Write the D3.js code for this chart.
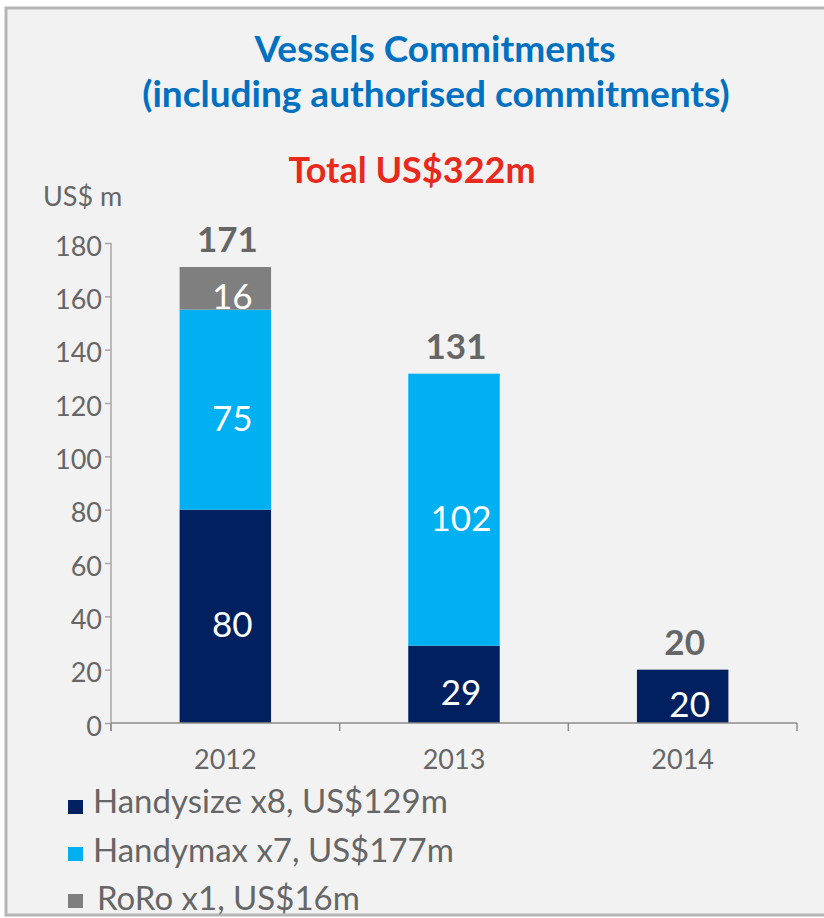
<!DOCTYPE html>
<html>
<head>
<meta charset="utf-8">
<script src="https://cdn.jsdelivr.net/npm/d3@7"></script>
<style>
  body { margin: 0; background: #fff; }
  svg { display: block; font-family: Lato, "Open Sans", sans-serif; }
</style>
</head>
<body>
<svg></svg>
<script>
//Chart data
var years = ["2012", "2013", "2014"];
var handysize = [80, 29, 20];
var handymax = [75, 102, 0];
var roro = [16, 0, 0];
var totals = [171, 131, 20];
var yTicks = [0, 20, 40, 60, 80, 100, 120, 140, 160, 180];
var seriesNames = ["Handysize x8, US$129m", "Handymax x7, US$177m", "RoRo x1, US$16m"];
var colors = ["#002060", "#00b0f0", "#7f7f7f"];

var width = 824;
var height = 918;
var svg = d3.select('svg')
            .attr('width', width)
            .attr('height', height);

//Panel background + frame
svg.append("rect")
   .attr("x", 6).attr("y", 8)
   .attr("width", width).attr("height", 907)
   .attr("fill", "#f2f2f2")
   .attr("stroke", "#b5b5b5")
   .attr("stroke-width", 3);

//Titles
svg.append("text")
   .attr("x", 435).attr("y", 62)
   .attr("text-anchor", "middle")
   .attr("fill", "#0070c0")
   .style("font-size", "37px").style("font-weight", "bold")
   .text("Vessels Commitments");
svg.append("text")
   .attr("x", 436).attr("y", 107)
   .attr("text-anchor", "middle")
   .attr("fill", "#0070c0")
   .style("font-size", "37px").style("font-weight", "bold")
   .text("(including authorised commitments)");
svg.append("text")
   .attr("x", 412).attr("y", 183)
   .attr("text-anchor", "middle")
   .attr("fill", "#e8291c")
   .style("font-size", "36px").style("font-weight", "bold")
   .text("Total US$322m");
svg.append("text")
   .attr("x", 43).attr("y", 206)
   .attr("fill", "#666")
   .style("font-size", "27px")
   .text("US$ m");

//Scales
var x = d3.scaleBand()
          .domain(years)
          .range([111, 797])
          .paddingInner(0.6)
          .paddingOuter(0.3);
var band = d3.scaleBand().domain(years).range([111, 797]);
var y = d3.scaleLinear()
          .domain([0, 180])
          .range([723, 243]);

//Stack the series
var rows = years.map(function(yr, i) {
  return { year: yr, handysize: handysize[i], handymax: handymax[i], roro: roro[i] };
});
var keys = ["handysize", "handymax", "roro"];
var stacked = d3.stack().keys(keys)(rows);

var layers = svg.append("g").selectAll("g")
   .data(stacked)
   .enter()
   .append("g")
   .attr("fill", (d, i) => colors[i]);

layers.selectAll("rect")
   .data(d => d.filter(p => p[1] - p[0] > 0))
   .enter()
   .append("rect")
   .attr("x", d => x(d.data.year))
   .attr("y", d => y(d[1]))
   .attr("width", x.bandwidth())
   .attr("height", d => y(d[0]) - y(d[1]));

//Segment labels
layers.selectAll("text")
   .data(d => d.filter(p => p[1] - p[0] > 0))
   .enter()
   .append("text")
   .attr("x", d => x(d.data.year) + x.bandwidth() / 2 + 7)
   .attr("y", d => (y(d[0]) + y(d[1])) / 2 + 21)
   .attr("text-anchor", "middle")
   .attr("fill", "#fff")
   .style("font-size", "35px")
   .text(d => d[1] - d[0]);

//Totals
svg.append("g").selectAll("text")
   .data(years)
   .enter()
   .append("text")
   .attr("x", (d, i) => x(d) + x.bandwidth() / 2 + 2)
   .attr("y", (d, i) => y(totals[i]) - 15)
   .attr("text-anchor", "middle")
   .attr("fill", "#666")
   .style("font-size", "35px").style("font-weight", "bold")
   .text((d, i) => totals[i]);

//Y axis
var yAxis = svg.append("g")
   .attr("transform", "translate(111,0)")
   .call(d3.axisLeft(y).tickValues(yTicks).tickSize(6).tickPadding(3));
yAxis.select(".domain").attr("stroke", "#a6a6a6").attr("stroke-width", 1.5)
     .attr("d", "M0,243V731");
yAxis.selectAll(".tick line").attr("stroke", "#a6a6a6").attr("stroke-width", 1.5);
yAxis.selectAll(".tick text")
     .attr("fill", "#666")
     .attr("dy", "0.45em")
     .style("font-size", "27px").style("font-family", "Lato, sans-serif");

//X axis
var xAxis = svg.append("g")
   .attr("transform", "translate(0,723)")
   .call(d3.axisBottom(x).tickSize(0).tickPadding(27));
xAxis.select(".domain").attr("stroke", "#8c8c8c").attr("stroke-width", 1.5)
     .attr("d", "M111,0H797");
xAxis.selectAll(".tick text")
     .attr("fill", "#666")
     .style("font-size", "27px").style("font-family", "Lato, sans-serif");
xAxis.selectAll(".sep")
     .data(years.concat(["end"]))
     .enter()
     .append("line")
     .attr("class", "sep")
     .attr("x1", (d, i) => i < years.length ? band(d) : band.range()[1])
     .attr("x2", (d, i) => i < years.length ? band(d) : band.range()[1])
     .attr("y1", 0).attr("y2", 8)
     .attr("stroke", "#8c8c8c").attr("stroke-width", 1.5);

//Legend
var legend = svg.append("g").selectAll("g")
   .data(seriesNames)
   .enter()
   .append("g")
   .attr("transform", (d, i) => "translate(68," + (800 + i * 47) + ")");
legend.append("rect")
   .attr("width", 15).attr("height", 14)
   .attr("fill", (d, i) => colors[i]);
legend.append("text")
   .attr("x", (d, i) => i === 2 ? 29 : 25)
   .attr("y", (d, i) => 13 + i * 1.5)
   .attr("fill", "#666")
   .style("font-size", "33px")
   .text(d => d);
</script>
</body>
</html>
